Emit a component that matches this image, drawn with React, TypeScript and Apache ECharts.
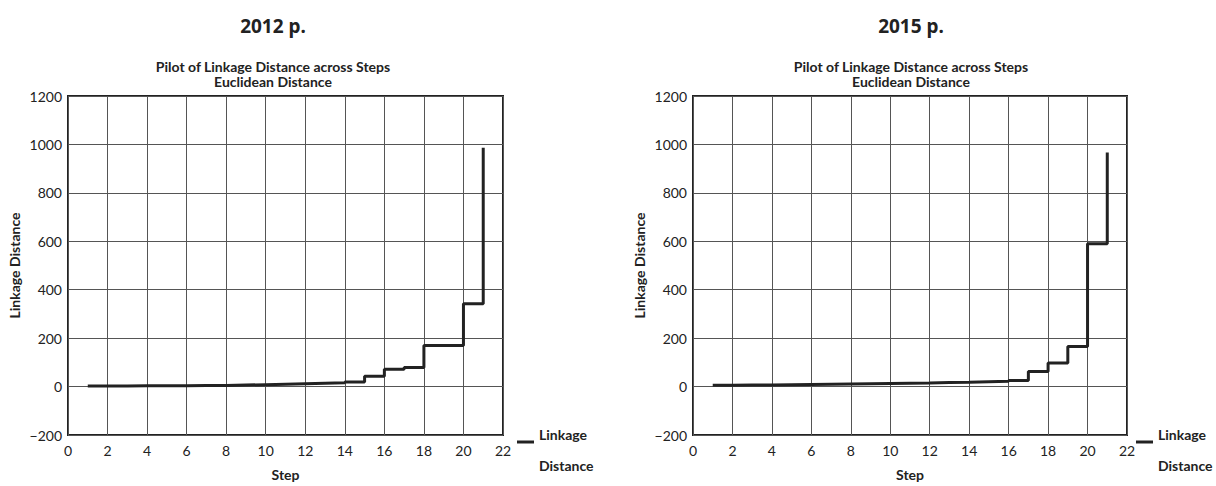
import React, { useEffect, useRef } from "react";
import * as echarts from "echarts";

const steps = [1, 2, 3, 4, 5, 6, 7, 8, 9, 10, 11, 12, 13, 14, 15, 16, 17, 18, 19, 20, 21];
const dist2012 = [2, 2, 3, 3, 3, 4, 4, 6, 8, 10, 12, 14, 16, 19, 43, 72, 79, 170, 170, 342, 986];
const dist2015 = [5, 6, 7, 8, 9, 10, 11, 12, 13, 14, 15, 17, 18, 20, 22, 25, 62, 97, 166, 590, 967];
const panelTitles = ["2012 p.", "2015 p."];
const chartSubtitle = "Pilot of Linkage Distance across Steps\nEuclidean Distance";
const seriesName = "Linkage Distance";
const xTicks = { min: 0, max: 22, interval: 2 };
const yTicks = { min: -200, max: 1200, interval: 200 };

const NARROW = "Lato, 'Liberation Sans Narrow', sans-serif";
const TITLE_FONT = "'Noto Sans', 'Open Sans', sans-serif";

export default function App() {
  const ref = useRef<HTMLDivElement>(null);
  useEffect(() => {
    document.body.style.margin = "0";
    const chart = echarts.init(ref.current!, null, { renderer: "svg" });
    const grids = [
      { left: 68, top: 96, width: 435, height: 343 },
      { left: 693, top: 96, width: 434, height: 343 },
    ];
    const titleCenters = [268, 906];
    const legendLefts = [517, 1136];
    const datasets = [dist2012, dist2015];
    const yLabel = (v: number) => (v < 0 ? "\u2212" + Math.abs(v) : String(v));
    const legendText = { fontFamily: NARROW, fontSize: 14, fontWeight: "bold", color: "#222" };

    const option: any = {
      animation: false,
      backgroundColor: "#fff",
      title: [
        ...panelTitles.map((t, i) => ({
          text: t,
          left: titleCenters[i],
          top: 11,
          textAlign: "center",
          textStyle: { fontFamily: TITLE_FONT, fontSize: 19, fontWeight: "bold", color: "#222" },
        })),
        ...panelTitles.map((_, i) => ({
          text: chartSubtitle,
          left: titleCenters[i],
          top: 54,
          textAlign: "center",
          textStyle: { fontFamily: NARROW, fontSize: 14, fontWeight: "bold", color: "#222", lineHeight: 15 },
        })),
      ],
      legend: legendLefts.map((l) => ({
        data: [seriesName],
        left: l,
        top: 427,
        padding: 0,
        orient: "vertical",
        icon: "rect",
        itemWidth: 17,
        itemHeight: 3,
        formatter: () => "{a|Linkage}\n{b|Distance}",
        textStyle: {
          ...legendText,
          rich: {
            a: { ...legendText, lineHeight: 46 },
            b: { ...legendText, lineHeight: 16 },
          },
        },
      })),
      grid: grids.map((g) => ({ ...g, show: true, borderColor: "#222", borderWidth: 2, backgroundColor: "transparent" })),
      xAxis: grids.map((_, i) => ({
        type: "value",
        gridIndex: i,
        ...xTicks,
        name: "Step",
        nameLocation: "middle",
        nameGap: 32,
        nameTextStyle: { fontFamily: NARROW, fontSize: 14, fontWeight: "bold", color: "#222" },
        axisLine: { show: false },
        axisTick: { show: false },
        axisLabel: { fontFamily: NARROW, fontSize: 14, color: "#222", margin: 8 },
        splitLine: { show: true, lineStyle: { color: "#555", width: 1 } },
      })),
      yAxis: grids.map((_, i) => ({
        type: "value",
        gridIndex: i,
        ...yTicks,
        name: "Linkage Distance",
        nameLocation: "middle",
        nameGap: 47,
        nameTextStyle: { fontFamily: NARROW, fontSize: 14, fontWeight: "bold", color: "#222" },
        axisLine: { show: false },
        axisTick: { show: false },
        axisLabel: { fontFamily: NARROW, fontSize: 14, color: "#222", margin: 6, formatter: yLabel },
        splitLine: { show: true, lineStyle: { color: "#555", width: 1 } },
      })),
      series: datasets.map((d, i) => ({
        name: seriesName,
        type: "line",
        xAxisIndex: i,
        yAxisIndex: i,
        step: "end",
        showSymbol: false,
        symbol: "none",
        data: steps.map((s, k) => [s, d[k]]),
        lineStyle: { color: "#222", width: 3 },
        itemStyle: { color: "#222" },
      })),
    };
    chart.setOption(option);
    return () => chart.dispose();
  }, []);
  return <div ref={ref} style={{ position: "fixed", left: 0, top: 0, width: 1216, height: 486 }} />;
}
